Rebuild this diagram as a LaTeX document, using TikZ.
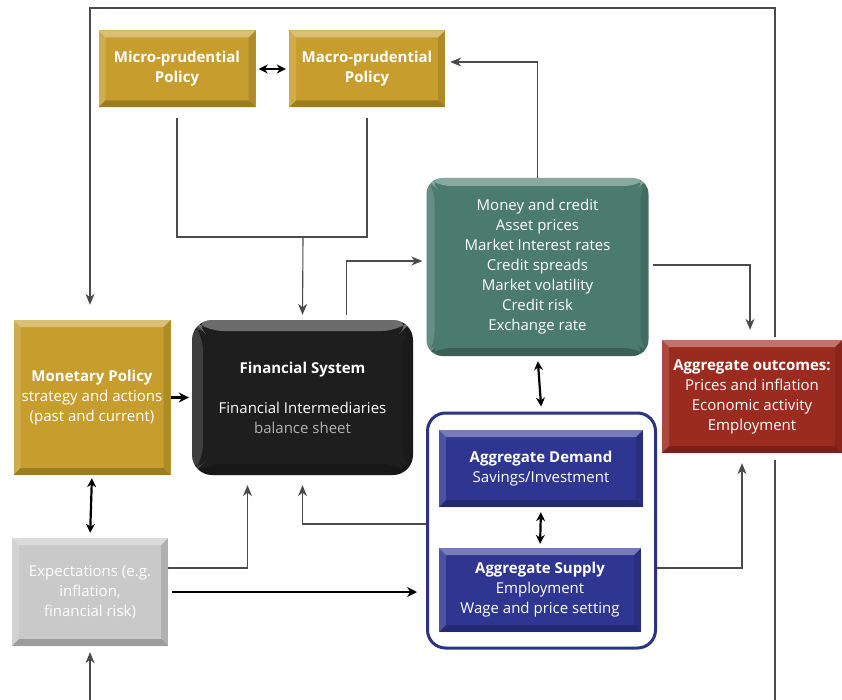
\documentclass[tikz,border=0pt]{standalone}
\usepackage{fontspec}
\setmainfont{Open Sans}
\usetikzlibrary{arrows.meta}
\definecolor{gold}{HTML}{C79E2E}
\definecolor{tealg}{HTML}{4B7B6D}
\definecolor{blk}{HTML}{1E1E1E}
\definecolor{redb}{HTML}{9C2B1F}
\definecolor{blueb}{HTML}{2E3691}
\definecolor{framec}{HTML}{2A3384}
\definecolor{greyb}{HTML}{C9C9C9}
\definecolor{linec}{HTML}{4A4A4A}
\tikzset{
  bev/.style={path picture={
    \coordinate (pa) at (path picture bounding box.north west);
    \coordinate (pb) at (path picture bounding box.north east);
    \coordinate (pc) at (path picture bounding box.south east);
    \coordinate (pd) at (path picture bounding box.south west);
    \fill[white,opacity=.35] (pa) -- (pb) -- ([shift={(-#1,-#1)}]pb) -- ([shift={(#1,-#1)}]pa) -- cycle;
    \fill[white,opacity=.15] (pa) -- ([shift={(#1,-#1)}]pa) -- ([shift={(#1,#1)}]pd) -- (pd) -- cycle;
    \fill[black,opacity=.22] (pd) -- (pc) -- ([shift={(-#1,#1)}]pc) -- ([shift={(#1,#1)}]pd) -- cycle;
    \fill[black,opacity=.12] (pb) -- (pc) -- ([shift={(-#1,#1)}]pc) -- ([shift={(-#1,-#1)}]pb) -- cycle;
  }},
  box/.style={inner sep=0pt, align=center, text=white, font=\fontsize{15}{20}\selectfont},
  goldbox/.style={box, fill=gold, bev=7pt},
  conn/.style={draw=linec, line width=1.1pt},
  tip/.style={-{Stealth[length=11pt,width=9pt]}},
  thk/.style={draw=black, line width=2.2pt, -{Stealth[length=10pt,width=10pt]}},
  dbl/.style={draw=black, line width=2.2pt, {Stealth[length=9pt,width=9pt]}-{Stealth[length=9pt,width=9pt]}},
}
\begin{document}
\begin{tikzpicture}[x=1pt,y=-1pt]
\fill[white] (0,0) rectangle (842,700);
\useasboundingbox (0,0) rectangle (842,700);

% nodes
\node[goldbox, minimum width=157pt, minimum height=77pt] (micro) at (177,69) {\textbf{Micro-prudential}\\\textbf{Policy}};
\node[goldbox, minimum width=156pt, minimum height=77pt] (macro) at (367,69) {\textbf{Macro-prudential}\\\textbf{Policy}};
\node[box, fill=tealg, rounded corners=16pt, bev=8pt, minimum width=222pt, minimum height=178pt] (green) at (537.5,267)
  {Money and credit\\Asset prices\\Market Interest rates\\Credit spreads\\Market volatility\\Credit risk\\Exchange rate};
\node[goldbox, minimum width=157pt, minimum height=155pt] (monetary) at (92,397.5)
  {\textbf{Monetary Policy}\\strategy and actions\\(past and current)};
\node[box, fill=blk, rounded corners=20pt, bev=11pt, minimum width=221pt, minimum height=155pt] (fin) at (302.5,397.5)
  {\textbf{Financial System}\\[20pt]Financial Intermediaries\\\textcolor{white!70!black}{balance sheet}};
\node[box, fill=redb, bev=7pt, minimum width=180pt, minimum height=113pt] (red) at (752,396.5)
  {\textbf{Aggregate outcomes:}\\Prices and inflation\\Economic activity\\Employment};
\node[draw=framec, line width=3pt, rounded corners=18pt, minimum width=228pt, minimum height=235pt, inner sep=0pt] (frame) at (541.5,530.5) {};
\node[box, fill=blueb, bev=7pt, minimum width=204pt, minimum height=77pt] (demand) at (541,468.5)
  {\textbf{Aggregate Demand}\\Savings/Investment};
\node[box, fill=blueb, bev=7pt, minimum width=202pt, minimum height=84pt] (supply) at (540,590)
  {\textbf{Aggregate Supply}\\Employment\\Wage and price setting};
\node[box, fill=greyb, bev=7pt, minimum width=156pt, minimum height=108pt] (expect) at (90,592)
  {Expectations (e.g.\\inflation,\\financial risk)};

\coordinate (join) at (303,237);
\coordinate (topleft) at (90,8);
\coordinate (topright) at (775,8);
\coordinate (botleft) at (90,700);
\coordinate (botright) at (775,700);

% connectors
\draw[dbl, shorten <=3pt, shorten >=3pt] (micro.east) -- (macro.west);
\draw[conn, tip] (green.north) |- ([yshift=7pt,xshift=5pt]macro.east);
\draw[conn] ([yshift=-10pt]micro.south) |- (join) -| ([yshift=-10pt]macro.south);
\draw[conn, tip, shorten >=5pt] (join) -- (fin.north);
\draw[conn, tip, shorten >=4pt] ([xshift=44pt,yshift=5pt]fin.north) |- ([yshift=6pt]green.west);
\draw[conn, tip, shorten <=4pt] ([yshift=2pt]green.east) -| ([xshift=-2pt,yshift=10pt]red.north);
\draw[thk, shorten >=3pt] (monetary.east) -- (fin.west);
\draw[dbl, shorten <=3pt, shorten >=5pt] (monetary.south) -- (expect.north);
\draw[conn, tip] ([yshift=24pt]expect.east) -| ([xshift=-55pt,yshift=-10pt]fin.south);
\draw[conn, tip, shorten >=10pt] ([yshift=6.5pt]frame.west) -| (fin.south);
\draw[thk, shorten <=4pt, shorten >=9pt] (expect.east) -- (expect.east -| frame.west);
\draw[dbl, shorten <=5pt, shorten >=5pt] (green.south) -- (frame.north);
\draw[dbl, shorten <=5pt, shorten >=4pt] (demand.south) -- (supply.north);
\draw[conn, tip] ([yshift=-37.5pt]frame.east) -| ([xshift=-10pt,yshift=-10pt]red.south);
\draw[conn, tip, shorten <=3pt] ([xshift=23pt]red.north) -- (topright) -- (topleft) -- ([yshift=15pt,xshift=-2pt]monetary.north);
\draw[conn, shorten <=7pt] ([xshift=23pt]red.south) -- (botright);
\draw[conn, tip, shorten >=6pt] (botleft) -- (expect.south);
\end{tikzpicture}
\end{document}
